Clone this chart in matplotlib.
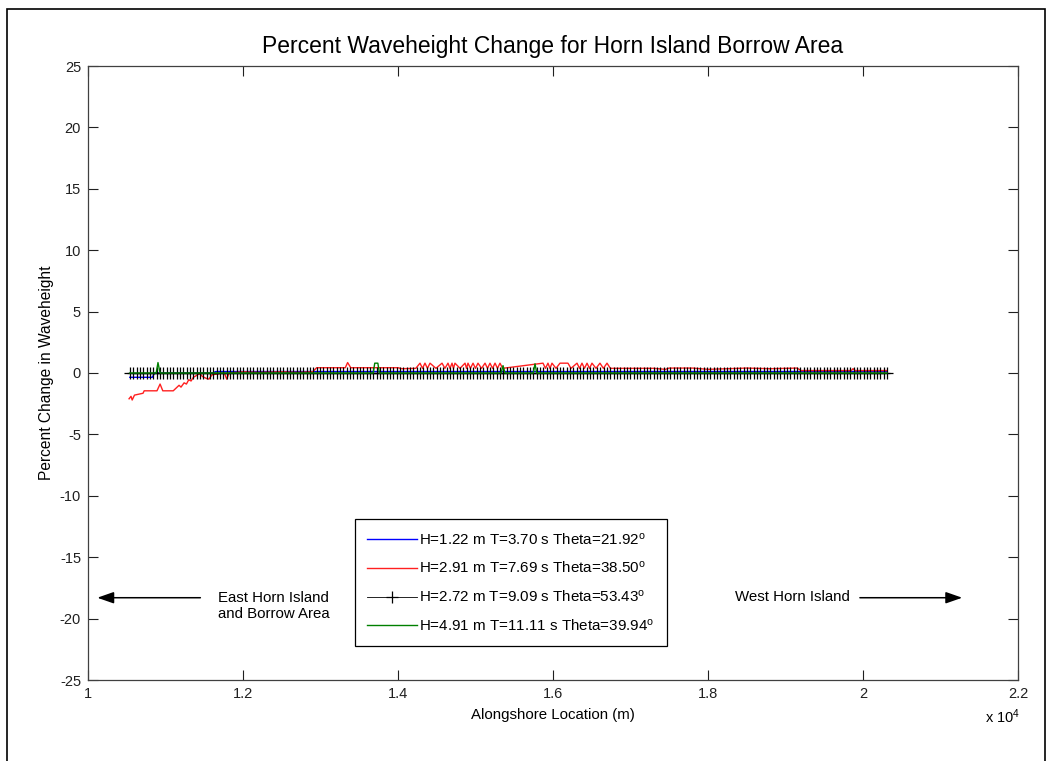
import numpy as np
import matplotlib
matplotlib.use("Agg")
import matplotlib.pyplot as plt
from matplotlib.patches import Rectangle

plt.rcParams['font.family'] = ['Liberation Sans', 'DejaVu Sans']
plt.rcParams['mathtext.fontset'] = 'custom'
plt.rcParams['mathtext.rm'] = 'Liberation Sans'
plt.rcParams['mathtext.it'] = 'Liberation Sans'
plt.rcParams['axes.unicode_minus'] = False

# ---------------- data ----------------
title = "Percent Waveheight Change for Horn Island Borrow Area"
xlabel = "Alongshore Location (m)"
ylabel = "Percent Change in Waveheight"
xticks = [10000, 12000, 14000, 16000, 18000, 20000, 22000]
xticklabels = ["1", "1.2", "1.4", "1.6", "1.8", "2", "2.2"]
yticks = [-25, -20, -15, -10, -5, 0, 5, 10, 15, 20, 25]

labels = [
    r"H=1.22 m T=3.70 s Theta=21.92$^{\mathrm{o}}$",
    r"H=2.91 m T=7.69 s Theta=38.50$^{\mathrm{o}}$",
    r"H=2.72 m T=9.09 s Theta=53.43$^{\mathrm{o}}$",
    r"H=4.91 m T=11.11 s Theta=39.94$^{\mathrm{o}}$",
]

# alongshore grid of the model transects (m)
grid_x = np.linspace(10540, 20310, 228)

# case 3 (black): zero change everywhere
black_y = np.zeros_like(grid_x)

# case 1 (blue)
blue_x = [10540, 10830, 10860, 11600, 11650, 20310]
blue_y = [-0.35, -0.35, 0.0, 0.0, 0.12, 0.12]

# case 2 (red)
red_x = [10530, 10555, 10570, 10600, 10710, 10725, 10890, 10930, 10965, 11100,
         11150, 11175, 11200, 11240, 11270, 11300, 11330, 11360, 11400, 11440,
         11480, 11530, 11560, 11600, 11700, 11760, 11790, 11820, 12000, 12200,
         12500, 12700, 12900, 12950, 13320, 13350, 13390, 14000, 14050, 14230,
         14284, 14316, 14348, 14380, 14413, 14490, 14568, 14606, 14645, 14671,
         14697, 14716, 14735, 14800, 14865, 14884, 14903, 14935, 14968, 15000,
         15032, 15078, 15123, 15155, 15187, 15220, 15252, 15284, 15316, 15350,
         15871, 15903, 15935, 15961, 15987, 16039, 16090, 16193, 16232,
         16310, 16342, 16374, 16406, 16439, 16471, 16503, 16555, 16606, 16650,
         16697, 16740, 17300, 17450, 17500, 17800, 18000, 18500, 18800, 19150,
         19200, 19850, 19871, 19900, 20310]
red_y = [-2.1, -1.9, -2.2, -1.8, -1.65, -1.45, -1.45, -0.9, -1.45, -1.45,
         -1.15, -1.0, -1.15, -0.8, -0.9, -0.55, -0.65, -0.35, -0.2, -0.05,
         -0.3, -0.45, -0.5, -0.15, -0.05, 0.0, -0.5, 0.0, 0.1, 0.05,
         0.1, 0.05, 0.1, 0.43, 0.43, 0.85, 0.43, 0.43, 0.35, 0.38,
         0.8, 0.38, 0.8, 0.38, 0.8, 0.38, 0.8, 0.38, 0.8, 0.38,
         0.8, 0.38, 0.8, 0.38, 0.8, 0.38, 0.8, 0.38, 0.8, 0.38,
         0.8, 0.38, 0.8, 0.38, 0.8, 0.38, 0.8, 0.38, 0.8, 0.38,
         0.8, 0.38, 0.8, 0.38, 0.8, 0.38, 0.8, 0.8, 0.38,
         0.8, 0.38, 0.8, 0.38, 0.8, 0.38, 0.8, 0.38, 0.8, 0.38,
         0.8, 0.38, 0.38, 0.3, 0.4, 0.4, 0.3, 0.4, 0.35, 0.4,
         0.2, 0.2, 0.35, 0.2, 0.2]

# case 4 (green)
green_x = [10540, 10880, 10903, 10930, 13680, 13700, 13740, 13760, 15330, 15355,
           15380, 15745, 15768, 15790, 20310]
green_y = [0.0, 0.0, 0.85, 0.0, 0.0, 0.8, 0.8, 0.0, 0.0, 0.6,
           0.0, 0.0, 0.75, 0.0, 0.0]

# ---------------- figure ----------------
W, H = 1052, 761
fig = plt.figure(figsize=(W / 100, H / 100), dpi=100)
fig.patch.set_facecolor('white')

# outer frame
fig.patches.append(Rectangle((7 / W, -0.05), (1045 - 7) / W, 1.05 - 9 / H,
                             transform=fig.transFigure, fill=False,
                             edgecolor='black', linewidth=1.2))

ax = fig.add_axes([88 / W, 1 - 680 / H, (1018 - 88) / W, (680 - 66) / H])

l1, = ax.plot(blue_x, blue_y, color='#0000ff', lw=1.0, label=labels[0])
l2, = ax.plot(red_x, red_y, color='#ff2020', lw=1.0, label=labels[1])
l3, = ax.plot(grid_x, black_y, color='black', lw=0.6, marker='+',
              markersize=8, markeredgewidth=0.9, label=labels[2])
l4, = ax.plot(green_x, green_y, color='#008000', lw=1.0, label=labels[3])

ax.set_xlim(10000, 22000)
ax.set_ylim(-25, 25)
ax.set_xticks(xticks)
ax.set_xticklabels(xticklabels)
ax.set_yticks(yticks)
ax.tick_params(direction='in', length=7, width=0.8, top=True, right=True,
               labelsize=10.5, colors='#202020', pad=5)
for s in ax.spines.values():
    s.set_color('#404040')
    s.set_linewidth(0.9)

ax.set_title(title, fontsize=16.5, pad=9)
ax.set_xlabel(xlabel, fontsize=10.8, labelpad=5)
ax.set_ylabel(ylabel, fontsize=11.2, labelpad=4)
fig.text(985 / W, 1 - 717 / H, r"x 10$^{4}$", fontsize=10.5, va='center', ha='left')

leg = ax.legend(handles=[l1, l2, l3, l4], loc='upper left',
                bbox_to_anchor=(355 / W, 1 - 519 / H),
                bbox_transform=fig.transFigure, fontsize=10.9,
                fancybox=False, framealpha=1, edgecolor='black',
                handlelength=3.3, handletextpad=0.15, labelspacing=0.85,
                borderpad=0.8, borderaxespad=0, numpoints=1)
leg.get_frame().set_linewidth(0.9)

# direction arrows and notes
arrow_style = dict(arrowstyle='-|>,head_length=1.0,head_width=0.35',
                   color='black', lw=1.1, shrinkA=0, shrinkB=0)
ax.annotate("", xy=(10120, -18.3), xytext=(11450, -18.3), arrowprops=arrow_style)
ax.annotate("", xy=(21280, -18.3), xytext=(19960, -18.3), arrowprops=arrow_style)
ax.text(11680, -18.95, "East Horn Island\nand Borrow Area", fontsize=10.8,
        ha='left', va='center', linespacing=1.15)
ax.text(18350, -18.25, "West Horn Island", fontsize=10.8, ha='left', va='center')

fig.savefig("out.png", dpi=100)
